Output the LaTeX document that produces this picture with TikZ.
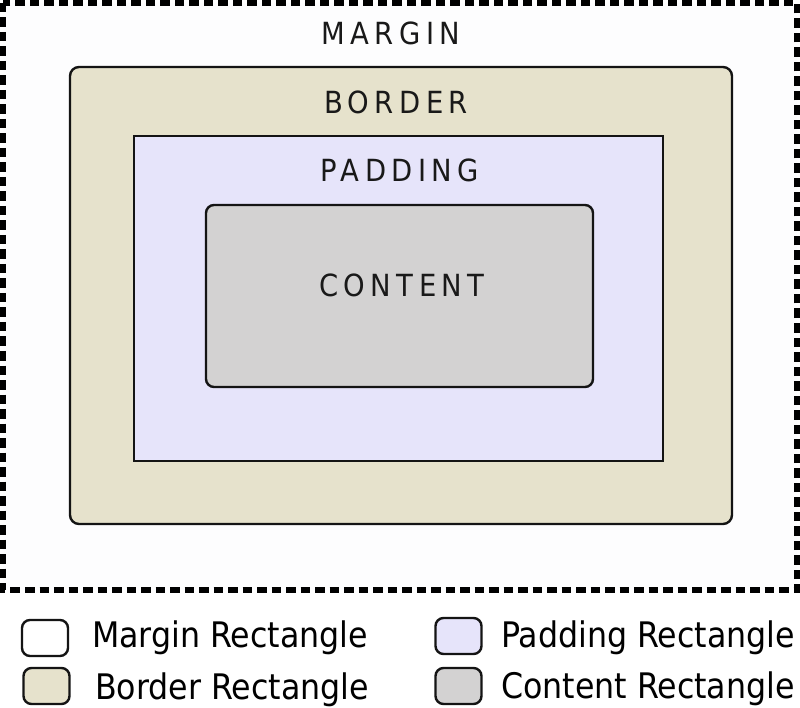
\documentclass[tikz,border=0pt]{standalone}
\usepackage{fontspec}
\setmainfont{DejaVu Sans Condensed}
\newfontfamily\capsfont[LetterSpace=18]{DejaVu Sans Condensed}
\definecolor{marginfill}{RGB}{253,253,254}
\definecolor{borderfill}{RGB}{230,226,204}
\definecolor{paddingfill}{RGB}{230,228,250}
\definecolor{contentfill}{RGB}{211,210,210}
\definecolor{strokec}{RGB}{20,20,20}
\begin{document}
\begin{tikzpicture}[x=1pt,y=-1pt,
  boxline/.style={draw=strokec,line width=2.4pt},
  caplabel/.style={font=\capsfont\fontsize{30.5}{30.5}\selectfont,anchor=base,inner sep=0pt,text=black!90},
  legtext/.style={font=\fontsize{35.2}{35.2}\selectfont,anchor=base west,inner sep=0pt,text=black},
  legbox/.style={boxline,rounded corners=8pt,minimum width=46pt,minimum height=36pt,inner sep=0pt}]
\useasboundingbox[fill=white] (0,0) rectangle (800,708);
% margin
\draw[fill=marginfill,draw=black,line width=6pt,dash pattern=on 9.5pt off 5pt] (3,3) rectangle (797,590);
% border
\draw[boxline,fill=borderfill,rounded corners=9pt] (70,67) rectangle (732,524);
% padding
\draw[boxline,fill=paddingfill] (134,136) rectangle (663,461);
% content
\draw[boxline,fill=contentfill,rounded corners=8pt] (206,205) rectangle (593,387);
% labels
\node[caplabel] (lm) at (391,45) {MARGIN};
\node[caplabel] (lb) at (396,114) {BORDER};
\node[caplabel] (lp) at (400,182) {PADDING};
\node[caplabel] (lc) at (402,297) {CONTENT};
% legend
\node[legbox,fill=white] (bm) at (45,638) {};
\node[legbox,fill=borderfill] (bb) at (46.5,686) {};
\node[legbox,fill=paddingfill] (bp) at (458.5,636) {};
\node[legbox,fill=contentfill] (bc) at (458.5,686) {};
\node[legtext] (tm) at (92,647) {Margin Rectangle};
\node[legtext] (tb) at (95,699) {Border Rectangle};
\node[legtext] (tp) at (501,647) {Padding Rectangle};
\node[legtext] (tc) at (501,698) {Content Rectangle};
\end{tikzpicture}
\end{document}
